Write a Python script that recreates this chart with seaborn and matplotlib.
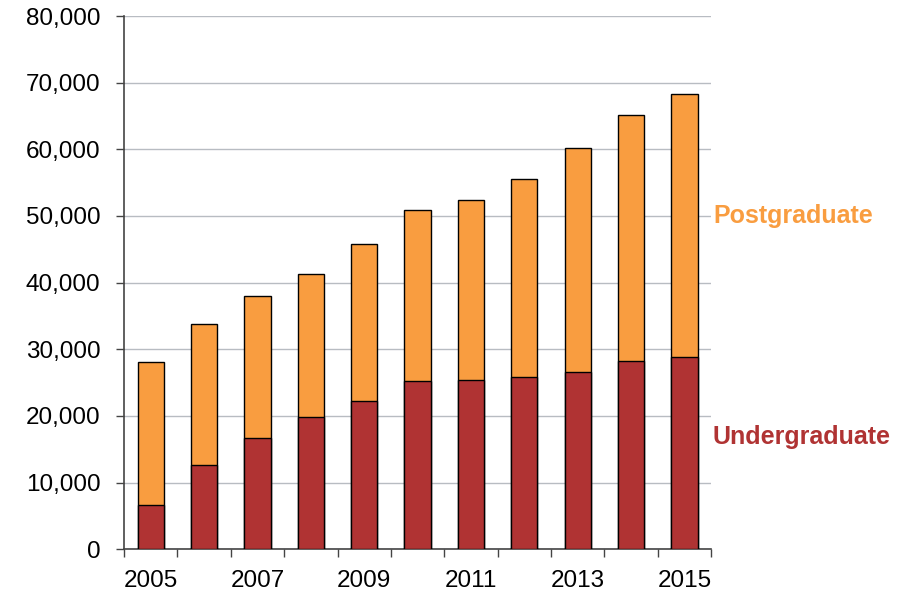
import numpy as np
import pandas as pd
import matplotlib
matplotlib.use("Agg")
import matplotlib.pyplot as plt
import matplotlib.transforms as mtransforms
from matplotlib.ticker import FuncFormatter, FixedLocator
import seaborn as sns

# --- Data ---
years = [2005, 2006, 2007, 2008, 2009, 2010, 2011, 2012, 2013, 2014, 2015]
undergraduate = [6650, 12650, 16650, 19850, 22250, 25200, 25400, 25850, 26600, 28200, 28900]
postgraduate = [21400, 21100, 21300, 21500, 23550, 25650, 26950, 29650, 33650, 36900, 39350]
year_labels = ["2005", "", "2007", "", "2009", "", "2011", "", "2013", "", "2015"]

UG_COLOR = "#B03333"
PG_COLOR = "#F99D40"

df = pd.DataFrame({
    "year": [str(y) for y in years],
    "undergraduate": undergraduate,
    "postgraduate": postgraduate,
})
df["total"] = df["undergraduate"] + df["postgraduate"]

sns.set_style("white")
plt.rcParams["font.family"] = ["Liberation Sans", "DejaVu Sans"]

fig = plt.figure(figsize=(9.06, 5.93), dpi=100)
ax = fig.add_axes([0.1369, 0.0737, 0.648, 0.8993])

# stacked bars: total (postgraduate on top) then undergraduate over it
sns.barplot(data=df, x="year", y="total", color=PG_COLOR, width=0.49,
            edgecolor="black", linewidth=1.0, saturation=1, ax=ax, zorder=3)
sns.barplot(data=df, x="year", y="undergraduate", color=UG_COLOR, width=0.49,
            edgecolor="black", linewidth=1.0, saturation=1, ax=ax, zorder=3)

ax.set_xlim(-0.5, len(years) - 0.5)
ax.set_ylim(0, 80000)
ax.set_xlabel("")
ax.set_ylabel("")

# y axis
ax.set_yticks(np.arange(0, 80001, 10000))
ax.yaxis.set_major_formatter(FuncFormatter(lambda v, p: f"{int(v):,}"))
ax.yaxis.grid(True, color="#B8BCC2", linewidth=1.0, zorder=0)
ax.set_axisbelow(True)
ax.tick_params(axis="y", which="major", direction="out", length=6, width=1,
               color="#444444", pad=11, labelsize=17.5, labelcolor="black", left=True)

# x axis: labels every other year, tick marks between categories
ax.xaxis.set_major_locator(FixedLocator(range(len(years))))
ax.set_xticklabels(year_labels)
ax.xaxis.set_minor_locator(FixedLocator(np.arange(-0.5, len(years), 1.0)))
ax.tick_params(axis="x", which="major", length=0, pad=15, labelsize=17.5, labelcolor="black")
ax.tick_params(axis="x", which="minor", direction="out", length=6, width=1,
               color="#444444", bottom=True)

for side in ["top", "right"]:
    ax.spines[side].set_visible(False)
for side in ["left", "bottom"]:
    ax.spines[side].set_color("#444444")
    ax.spines[side].set_linewidth(1.2)

# series labels to the right of the bars
trans = mtransforms.blended_transform_factory(ax.transAxes, ax.transData)
ax.text(1.003, 50000, "Postgraduate", transform=trans, color=PG_COLOR,
        fontsize=18, fontweight="bold", va="center", ha="left")
ax.text(1.003, 16800, "Undergraduate", transform=trans, color=UG_COLOR,
        fontsize=18, fontweight="bold", va="center", ha="left")

fig.savefig("out.png", dpi=100)
